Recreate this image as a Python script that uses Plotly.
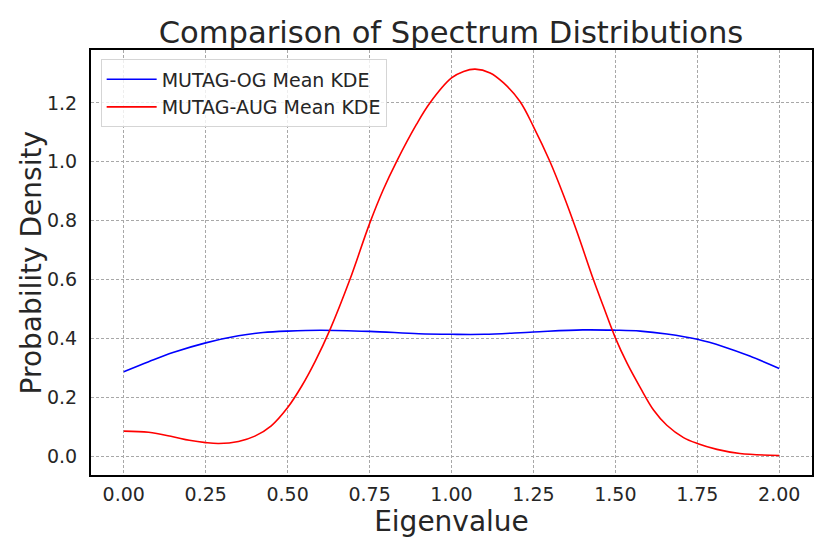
import plotly.graph_objs as go

# eigenvalue positions and mean KDE values
og_x = [0.0, 0.076, 0.15, 0.25, 0.35, 0.425, 0.5, 0.6, 0.75, 0.9, 1.0, 1.1, 1.25, 1.4, 1.5,
        1.576, 1.657, 1.75, 1.83, 1.91, 2.0]
og_y = [0.287, 0.321, 0.352, 0.385, 0.409, 0.420, 0.425, 0.428, 0.424, 0.416, 0.414, 0.414, 0.422,
        0.429, 0.428, 0.425, 0.415, 0.397, 0.372, 0.340, 0.298]

aug_x = [0.0, 0.076, 0.15, 0.2, 0.25, 0.29, 0.35, 0.40, 0.45, 0.5, 0.544, 0.584, 0.629, 0.69, 0.75,
         0.792, 0.832, 0.893, 0.934, 1.0, 1.037, 1.072, 1.118, 1.159, 1.209, 1.25, 1.30, 1.341, 1.382,
         1.433, 1.463, 1.5, 1.536, 1.576, 1.617, 1.657, 1.708, 1.75, 1.81, 1.88, 2.0]
aug_y = [0.085, 0.081, 0.066, 0.054, 0.046, 0.043, 0.050, 0.068, 0.103, 0.165, 0.240, 0.322, 0.429,
         0.600, 0.790, 0.906, 1.000, 1.127, 1.200, 1.285, 1.307, 1.315, 1.302, 1.268, 1.205, 1.120,
         1.002, 0.889, 0.765, 0.600, 0.510, 0.402, 0.315, 0.233, 0.156, 0.105, 0.063, 0.043, 0.023,
         0.009, 0.002]

x_ticks = [0, 0.25, 0.5, 0.75, 1.0, 1.25, 1.5, 1.75, 2.0]
y_ticks = [0.0, 0.2, 0.4, 0.6, 0.8, 1.0, 1.2]

font = "DejaVu Sans"
txt = "#262626"

fig = go.Figure()
fig.add_trace(go.Scatter(x=og_x, y=og_y, mode="lines", name="MUTAG-OG Mean KDE",
                         line=dict(color="blue", width=1.6, shape="spline", smoothing=1.0)))
fig.add_trace(go.Scatter(x=aug_x, y=aug_y, mode="lines", name="MUTAG-AUG Mean KDE",
                         line=dict(color="red", width=1.6, shape="spline", smoothing=1.0)))

axis_common = dict(showline=True, mirror=True, linecolor="black", linewidth=2,
                   showgrid=True, gridcolor="#a8a8a8", gridwidth=0.8, griddash="3px,2px",
                   zeroline=False, ticks="", tickfont=dict(family=font, size=19, color=txt),
                   automargin=False)

# the page body adds an 8px offset, so margins are shifted to compensate
fig.update_layout(
    width=830, height=554,
    margin=dict(l=83, r=26, t=42, b=87),
    plot_bgcolor="white", paper_bgcolor="white",
    font=dict(family=font, color=txt),
    title=dict(text="Comparison of Spectrum Distributions", x=443 / 830, xanchor="center",
               y=0.937, yanchor="bottom", font=dict(family=font, size=30.6, color=txt)),
    xaxis=dict(range=[-0.1, 2.1], tickvals=x_ticks, ticktext=[f"{v:.2f}" for v in x_ticks],
               ticklabelstandoff=1,
               title=dict(text="Eigenvalue", font=dict(family=font, size=28, color=txt), standoff=6),
               **axis_common),
    yaxis=dict(range=[-0.064, 1.38], tickvals=y_ticks, ticktext=[f"{v:.1f}" for v in y_ticks],
               ticklabelstandoff=8, **axis_common),
    legend=dict(x=0.0134, y=0.978, xanchor="left", yanchor="top", itemwidth=50,
                bgcolor="rgba(255,255,255,0.8)", bordercolor="#d5d5d5", borderwidth=1,
                font=dict(family=font, size=19, color=txt), tracegroupgap=0),
    showlegend=True,
)

fig.add_annotation(text="Probability Density", textangle=-90, showarrow=False,
                   xref="paper", yref="paper", x=-0.082, y=0.5, xanchor="center", yanchor="middle",
                   font=dict(family=font, size=28, color=txt))

fig.write_html("out.html")
